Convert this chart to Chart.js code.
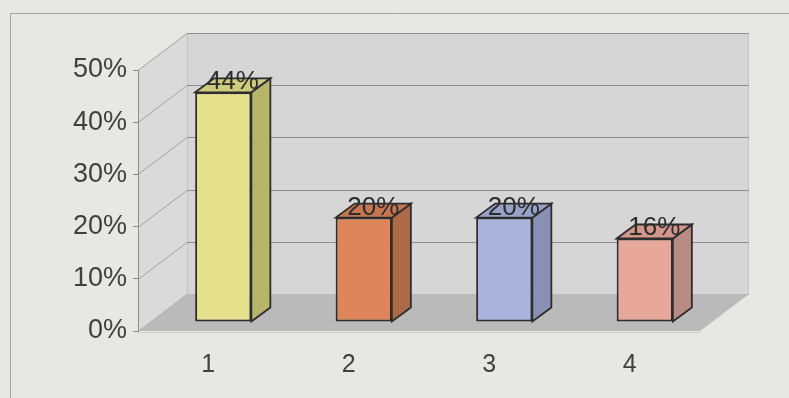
<!DOCTYPE html>
<html>
<head>
<meta charset="utf-8">
<script src="https://cdn.jsdelivr.net/npm/chart.js@4/dist/chart.umd.min.js"></script>
<style>
    html, body { margin: 0; padding: 0; background: #e7e7e5; }
    #wrap { width: 789px; height: 398px; }
</style>
</head>
<body>
<div id="wrap"><canvas id="chart"></canvas></div>
<script>
const categories = ['1', '2', '3', '4'];
const values = [0.44, 0.20, 0.20, 0.16];
const valueLabels = ['44%', '20%', '20%', '16%'];
const yTicks = [0, 0.1, 0.2, 0.3, 0.4, 0.5];
const frontColors = ['#e5e08c', '#df855b', '#a9b3dc', '#e8a79b'];
const sideColors = ['#b7b56c', '#ad6a48', '#8890b6', '#b98b84'];
const topColors = ['#cfcb7c', '#c57651', '#98a1c8', '#d2968c'];

// depth of the walls and of the boxes (pseudo 3D)
const WALL_DX = 49, WALL_DY = -37;
const BAR_OX = 15, BAR_OY = -9;
const BAR_DX = 19, BAR_DY = -14;
const FONT = "'Liberation Sans', Arial, sans-serif";

function poly(ctx, pts, fill, stroke, lw) {
    ctx.beginPath();
    pts.forEach((p, i) => i ? ctx.lineTo(p[0], p[1]) : ctx.moveTo(p[0], p[1]));
    ctx.closePath();
    if (fill) { ctx.fillStyle = fill; ctx.fill(); }
    if (stroke) { ctx.strokeStyle = stroke; ctx.lineWidth = lw || 1; ctx.stroke(); }
}

const threeD = {
    id: 'threeD',
    beforeDraw(chart) {
        const ctx = chart.ctx;
        const a = chart.chartArea;
        const y = chart.scales.y;
        ctx.save();
        ctx.fillStyle = '#e7e7e5';
        ctx.fillRect(0, 0, chart.width, chart.height);

        // outer frame
        ctx.strokeStyle = '#a6a6a6';
        ctx.lineWidth = 1;
        ctx.beginPath();
        ctx.moveTo(10.5, chart.height);
        ctx.lineTo(10.5, 13.5);
        ctx.lineTo(chart.width, 13.5);
        ctx.stroke();

        // back wall + left wall
        ctx.fillStyle = '#d6d6d6';
        ctx.fillRect(a.left + WALL_DX, a.top + WALL_DY, a.right - a.left, a.bottom - a.top);
        poly(ctx, [[a.left, a.top], [a.left + WALL_DX, a.top + WALL_DY],
            [a.left + WALL_DX, a.bottom + WALL_DY], [a.left, a.bottom]], '#dadada');

        ctx.strokeStyle = '#c4c4c4';
        ctx.beginPath();
        ctx.moveTo(a.right + WALL_DX - 0.5, a.top + WALL_DY);
        ctx.lineTo(a.right + WALL_DX - 0.5, a.bottom + WALL_DY);
        ctx.moveTo(a.left + WALL_DX + 0.5, a.top + WALL_DY);
        ctx.lineTo(a.left + WALL_DX + 0.5, a.bottom + WALL_DY);
        ctx.stroke();

        // gridlines on the walls
        yTicks.forEach(v => {
            const py = Math.round(y.getPixelForValue(v)) + 0.5;
            ctx.strokeStyle = '#a2a2a2';
            ctx.beginPath();
            ctx.moveTo(a.left, py);
            ctx.lineTo(a.left + WALL_DX, py + WALL_DY);
            ctx.stroke();
            ctx.strokeStyle = '#8e8e8e';
            ctx.beginPath();
            ctx.moveTo(a.left + WALL_DX, py + WALL_DY);
            ctx.lineTo(a.right + WALL_DX, py + WALL_DY);
            ctx.stroke();
        });

        // floor
        poly(ctx, [[a.left, a.bottom], [a.right, a.bottom],
            [a.right + WALL_DX, a.bottom + WALL_DY], [a.left + WALL_DX, a.bottom + WALL_DY]], '#bababa');
        ctx.strokeStyle = '#cbcbcb';
        ctx.beginPath();
        ctx.moveTo(a.left, a.bottom + 1.5);
        ctx.lineTo(a.right, a.bottom + 1.5);
        ctx.stroke();
        ctx.restore();
    },
    beforeDatasetsDraw(chart) {
        chart.ctx.save();
        chart.ctx.translate(BAR_OX, BAR_OY);
    },
    afterDatasetsDraw(chart) {
        const ctx = chart.ctx;
        const meta = chart.getDatasetMeta(0);
        meta.data.forEach((bar, i) => {
            const p = bar.getProps(['x', 'y', 'base', 'width'], true);
            const l = p.x - p.width / 2, r = p.x + p.width / 2;
            poly(ctx, [[r, p.y], [r + BAR_DX, p.y + BAR_DY], [r + BAR_DX, p.base + BAR_DY], [r, p.base]],
                sideColors[i], '#2d2d2d', 1.8);
            poly(ctx, [[l, p.y], [l + BAR_DX, p.y + BAR_DY], [r + BAR_DX, p.y + BAR_DY], [r, p.y]],
                topColors[i], '#2d2d2d', 1.8);
            ctx.fillStyle = '#2c2c2c';
            ctx.font = '26px ' + FONT;
            ctx.textAlign = 'center';
            ctx.textBaseline = 'alphabetic';
            ctx.fillText(valueLabels[i], p.x + BAR_DX / 2, p.y - 3);
        });
        ctx.restore();
    }
};

new Chart(document.getElementById('chart'), {
    type: 'bar',
    data: {
        labels: categories,
        datasets: [{
            data: values,
            backgroundColor: frontColors,
            borderColor: '#2d2d2d',
            borderWidth: 2,
            borderSkipped: false,
            categoryPercentage: 0.8,
            barPercentage: 0.5
        }]
    },
    options: {
        responsive: true,
        maintainAspectRatio: false,
        animation: false,
        layout: { padding: { left: 0, top: 70, right: 89, bottom: 0 } },
        plugins: { legend: { display: false }, tooltip: { enabled: false } },
        scales: {
            x: {
                grid: { display: false, drawTicks: false },
                border: { display: false },
                ticks: { color: '#404040', font: { size: 25, family: FONT }, padding: 19 },
                afterFit: s => { s.height = 67; }
            },
            y: {
                min: 0,
                max: 0.5,
                grid: { drawOnChartArea: false, tickLength: 5, color: '#8c8c8c' },
                border: { display: true, color: '#8c8c8c' },
                ticks: {
                    stepSize: 0.1,
                    color: '#404040',
                    padding: 6,
                    font: { size: 27, family: FONT },
                    callback: v => Math.round(v * 100) + '%'
                },
                afterFit: s => { s.width = 138; }
            }
        }
    },
    plugins: [threeD]
});
</script>
</body>
</html>
